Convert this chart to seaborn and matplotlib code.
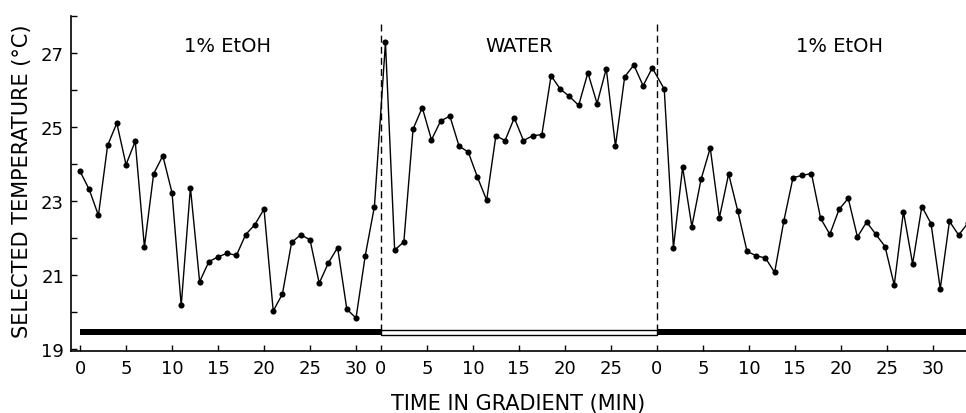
import numpy as np
import pandas as pd
import matplotlib
matplotlib.use("Agg")
import matplotlib.pyplot as plt
import seaborn as sns

# ---------------- data ----------------
segment_names = ["1% EtOH", "WATER", "1% EtOH"]

# sampling times (min) within each segment
seg1_minutes = np.arange(0, 33) + 0.0
seg2_minutes = np.arange(0, 30) + 0.5
seg3_minutes = np.arange(0, 34) + 0.8

seg1_temp = [23.80, 23.31, 22.61, 24.50, 25.10, 23.98, 24.61, 21.76, 23.73, 24.22,
             23.22, 20.18, 23.36, 20.82, 21.36, 21.49, 21.59, 21.53, 22.09, 22.36,
             22.78, 20.03, 20.49, 21.88, 22.09, 21.95, 20.78, 21.33, 21.74, 20.08,
             19.84, 21.52, 22.85]
seg2_temp = [27.28, 21.67, 21.90, 24.94, 25.52, 24.65, 25.16, 25.29, 24.48, 24.32,
             23.64, 23.02, 24.76, 24.63, 25.24, 24.63, 24.76, 24.79, 26.38, 26.02,
             25.82, 25.58, 26.46, 25.63, 26.57, 24.48, 26.35, 26.67, 26.11, 26.59]
seg3_temp = [26.02, 21.74, 23.91, 22.31, 23.58, 24.43, 22.55, 23.73, 22.72, 21.64,
             21.52, 21.46, 21.07, 22.46, 23.63, 23.69, 23.74, 22.53, 22.10, 22.77,
             23.07, 22.03, 22.43, 22.10, 21.77, 20.73, 22.71, 21.30, 22.85, 22.39,
             20.63, 22.45, 22.08, 22.40]

seg1_ticks = [0, 5, 10, 15, 20, 25, 30]
seg2_ticks = [0, 5, 10, 15, 20, 25]
seg3_ticks = [0, 5, 10, 15, 20, 25, 30]

y_ticks = [19, 20, 21, 22, 23, 24, 25, 26, 27, 28]
y_labels = ["19", "", "21", "", "23", "", "25", "", "27", ""]

# ---------------- layout ----------------
seg_start = [0.0, 32.7, 62.7]
seg_end = [32.7, 62.7, 120.0]
label_rel_x = [16.0, 15.0, 19.9]

sns.set_theme(style="ticks")
plt.rcParams['font.family'] = ['DejaVu Sans']

frames = []
for start, mins, temps in zip(seg_start, [seg1_minutes, seg2_minutes, seg3_minutes],
                              [seg1_temp, seg2_temp, seg3_temp]):
    frames.append(pd.DataFrame({"time": start + np.asarray(mins), "temp": temps}))
df = pd.concat(frames, ignore_index=True)

fig = plt.figure(figsize=(9.66, 4.14), dpi=100)
ax = fig.add_axes([71 / 966, 62 / 414, (966 - 71) / 966, (352 - 16.7) / 414])

sns.lineplot(data=df, x="time", y="temp", ax=ax, color="black", linewidth=1.0,
             marker="o", markersize=4.4, markeredgewidth=0, sort=True, zorder=3)

# condition bar near the bottom
for i, (s, e) in enumerate(zip(seg_start, seg_end)):
    if i == 1:
        ax.barh([19.46], [e - s], left=s, height=0.14, color="white",
                edgecolor="black", linewidth=1.0, zorder=2)
    else:
        ax.barh([19.46], [e - s], left=s, height=0.17, color="black",
                edgecolor="none", zorder=2)

# dashed separators
ax.vlines([seg_start[1], seg_start[2]], 19.5, 27.85, colors="black",
          linestyles=(0, (5, 3)), linewidth=1.0, zorder=1)

# segment titles
for s, rx, name in zip(seg_start, label_rel_x, segment_names):
    ax.text(s + rx, 27.2, name, ha="center", va="center", fontsize=14, color="black")

ax.set_xlim(-0.98, 96.3)
ax.set_ylim(18.95, 28.0)

xt, xl = [], []
for s, ticks in zip(seg_start, [seg1_ticks, seg2_ticks, seg3_ticks]):
    for t in ticks:
        xt.append(s + t)
        xl.append(str(t))
ax.set_xticks(xt)
ax.set_xticklabels(xl)
ax.set_yticks(y_ticks)
ax.set_yticklabels(y_labels)

ax.tick_params(axis="both", direction="in", length=4, width=1.0, labelsize=13,
               colors="black")
ax.tick_params(axis="x", pad=6)
ax.tick_params(axis="y", pad=5)

for side in ["top", "right"]:
    ax.spines[side].set_visible(False)
for side in ["left", "bottom"]:
    ax.spines[side].set_color("black")
    ax.spines[side].set_linewidth(1.2)

ax.set_xlabel("TIME IN GRADIENT (MIN)", fontsize=15, color="black")
ax.set_ylabel("SELECTED TEMPERATURE (°C)", fontsize=15, color="black")
ax.xaxis.set_label_coords(0.5, -0.125)
ax.yaxis.set_label_coords(-0.0436, 0.51)
ax.grid(False)
ax.set_facecolor("white")
fig.patch.set_facecolor("white")

fig.savefig("out.png", dpi=100, facecolor="white")
